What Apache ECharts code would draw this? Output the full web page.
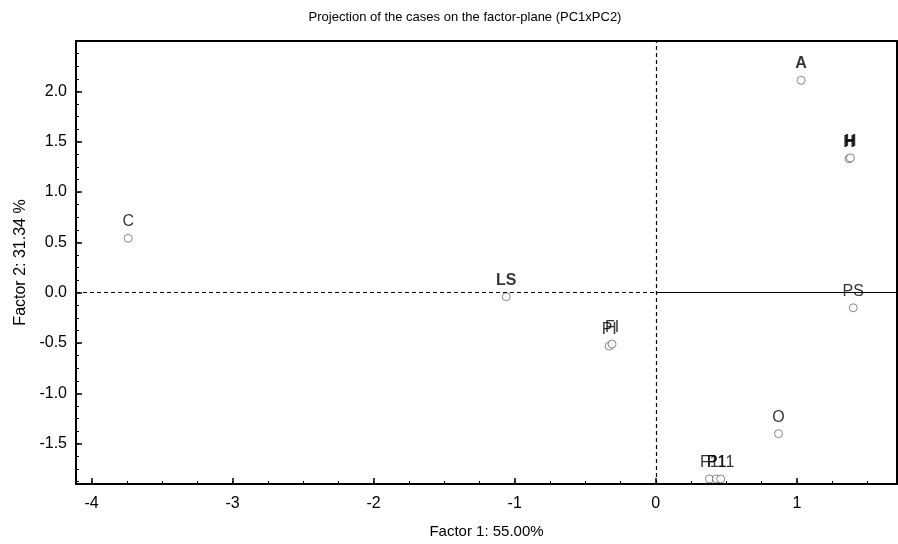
<!DOCTYPE html>
<html>
<head>
<meta charset="utf-8">
<script src="https://cdn.jsdelivr.net/npm/echarts@6/dist/echarts.min.js"></script>
<style>html,body{margin:0;padding:0;background:#fff;}#c{width:898px;height:544px;}</style>
</head>
<body>
<div id="c"></div>
<script>
// ---- data ----
const caseNames = ['A', 'H', 'H', 'C', 'LS', 'PI', 'FI', 'PS', 'O', 'F1', 'P1', 'P11'];
const factor1   = [1.03, 1.37, 1.38, -3.74, -1.06, -0.33, -0.31, 1.40, 0.87, 0.38, 0.43, 0.46];
const factor2   = [2.11, 1.33, 1.34, 0.54, -0.04, -0.53, -0.51, -0.15, -1.40, -1.85, -1.85, -1.85];
const xTicks = [-4, -3, -2, -1, 0, 1];
const yTicks = [-1.5, -1.0, -0.5, 0.0, 0.5, 1.0, 1.5, 2.0];
const xRange = [-4.11, 1.71];
const yRange = [-1.9, 2.5];
const titleText = 'Projection of the cases on the factor-plane (PC1xPC2)';
const xName = 'Factor 1: 55.00%';
const yName = 'Factor 2: 31.34 %';

// minor tick positions (quarter steps on x, eighth steps on y)
const xMinor = [];
for (let i = Math.ceil(xRange[0] * 4); i <= Math.floor(xRange[1] * 4); i++) xMinor.push(i / 4);
const yMinor = [];
for (let i = Math.ceil(yRange[0] * 8); i <= Math.floor(yRange[1] * 8); i++) yMinor.push(i / 8);

const boldNames = ['A', 'H', 'LS'];
const FONT = '"Liberation Sans Narrow", "Liberation Sans", Arial, sans-serif';
const FONT_T = '"Liberation Sans", Arial, sans-serif';

const points = caseNames.map((n, i) => ({
  name: n,
  value: [factor1[i], factor2[i]],
  label: { fontWeight: boldNames.indexOf(n) >= 0 ? 'bold' : 'normal' }
}));

const black = '#000';
const chart = echarts.init(document.getElementById('c'), null, { renderer: 'canvas' });
chart.setOption({
  animation: false,
  backgroundColor: '#fff',
  title: {
    text: titleText, left: 460, top: 6, textAlign: 'center',
    textStyle: { fontFamily: FONT_T, fontSize: 13, fontWeight: 'normal', color: '#000' }
  },
  grid: { left: 76, right: 1, top: 41, bottom: 60, containLabel: false },
  xAxis: [
    {
      type: 'value', min: xRange[0], max: xRange[1], position: 'bottom',
      name: xName, nameLocation: 'middle', nameGap: 40,
      nameTextStyle: { fontFamily: FONT, fontSize: 15, color: '#000' },
      axisLine: { show: true, onZero: false, lineStyle: { color: black, width: 2 } },
      axisTick: { show: true, inside: true, length: 6, customValues: xTicks, lineStyle: { color: black, width: 1.5 } },
      axisLabel: { customValues: xTicks, margin: 12, fontFamily: FONT, fontSize: 16, color: '#000',
                   formatter: v => String(Math.round(v)) },
      splitLine: { show: false }
    },
    {
      type: 'value', min: xRange[0], max: xRange[1], position: 'bottom',
      axisLine: { show: false, onZero: false },
      axisTick: { show: true, inside: true, length: 3, customValues: xMinor, lineStyle: { color: black, width: 1 } },
      axisLabel: { show: false }, splitLine: { show: false }
    },
    {
      type: 'value', min: xRange[0], max: xRange[1], position: 'top',
      axisLine: { show: true, onZero: false, lineStyle: { color: black, width: 2 } },
      axisTick: { show: false }, axisLabel: { show: false }, splitLine: { show: false }
    }
  ],
  yAxis: [
    {
      type: 'value', min: yRange[0], max: yRange[1], position: 'left',
      name: yName, nameLocation: 'middle', nameGap: 46, nameRotate: 90,
      nameTextStyle: { fontFamily: FONT_T, fontSize: 16, color: '#000' },
      axisLine: { show: true, onZero: false, lineStyle: { color: black, width: 2 } },
      axisTick: { show: true, inside: true, length: 6, customValues: yTicks, lineStyle: { color: black, width: 1.5 } },
      axisLabel: { customValues: yTicks, margin: 9, fontFamily: FONT, fontSize: 16, color: '#000',
                   formatter: v => v.toFixed(1) },
      splitLine: { show: false }
    },
    {
      type: 'value', min: yRange[0], max: yRange[1], position: 'left',
      axisLine: { show: false, onZero: false },
      axisTick: { show: true, inside: true, length: 3, customValues: yMinor, lineStyle: { color: black, width: 1 } },
      axisLabel: { show: false }, splitLine: { show: false }
    },
    {
      type: 'value', min: yRange[0], max: yRange[1], position: 'right',
      axisLine: { show: true, onZero: false, lineStyle: { color: black, width: 2 } },
      axisTick: { show: false }, axisLabel: { show: false }, splitLine: { show: false }
    }
  ],
  series: [
    {
      type: 'scatter', xAxisIndex: 0, yAxisIndex: 0,
      symbol: 'circle', symbolSize: 8,
      itemStyle: { color: '#fff', borderColor: '#444', borderWidth: 0.8 },
      label: { show: true, position: 'top', distance: 4, formatter: p => p.name,
               fontFamily: FONT, fontSize: 16, color: '#000' },
      labelLayout: { hideOverlap: false },
      data: points,
      markLine: {
        silent: true, symbol: 'none', animation: false,
        label: { show: false },
        data: [
          [{ coord: [0, yRange[0]] }, { coord: [0, yRange[1]], lineStyle: { type: [4, 3], color: black, width: 1.2 } }],
          [{ coord: [xRange[0], 0] }, { coord: [0, 0], lineStyle: { type: [4, 3], color: black, width: 1.2 } }],
          [{ coord: [0, 0] }, { coord: [xRange[1], 0], lineStyle: { type: 'solid', color: black, width: 1.2 } }]
        ]
      },
      z: 3
    }
  ]
});
</script>
</body>
</html>
